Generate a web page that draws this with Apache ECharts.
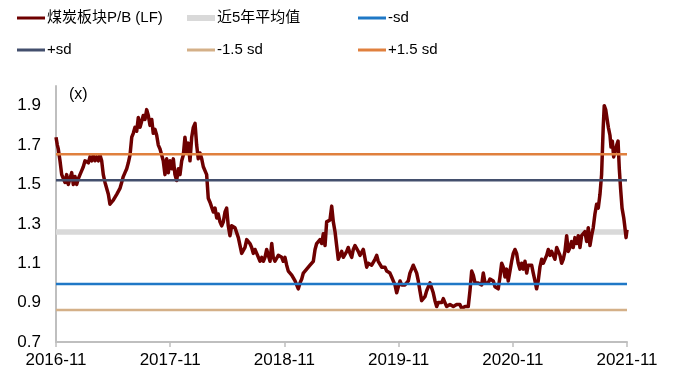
<!DOCTYPE html>
<html><head><meta charset="utf-8">
<script src="https://cdn.jsdelivr.net/npm/echarts@6/dist/echarts.min.js"></script>
<style>html,body{margin:0;padding:0;background:#fff}#c{width:677px;height:380px}</style>
</head><body><div id="c"></div>
<script>
// x = months since 2016-11
const xTickLabels = ['2016-11','2017-11','2018-11','2019-11','2020-11','2021-11'];
const months = [0,0.14,0.24,0.42,0.60,0.77,0.95,1.12,1.29,1.47,1.65,1.82,2.00,2.17,2.35,2.52,2.70,2.87,3.05,3.22,3.40,3.57,3.75,3.92,4.10,4.28,4.45,4.62,4.80,4.97,5.15,5.33,5.50,5.67,5.85,6.02,6.20,6.38,6.55,6.72,6.90,7.07,7.25,7.43,7.60,7.78,7.96,8.12,8.30,8.48,8.65,8.83,9.00,9.17,9.35,9.53,9.70,9.88,10.06,10.22,10.40,10.58,10.75,10.93,11.27,11.45,11.63,11.80,11.98,12.16,12.33,12.50,12.68,12.85,13.03,13.21,13.38,13.55,13.73,13.90,14.08,14.26,14.43,14.61,14.78,14.95,15.13,15.31,15.48,15.66,15.83,16.00,16.18,16.36,16.53,16.71,16.89,17.05,17.23,17.41,17.58,17.76,17.93,18.10,18.28,18.46,18.81,19.16,19.33,19.51,19.68,19.86,20.04,20.21,20.38,20.56,20.73,20.91,21.09,21.26,21.44,21.62,21.79,21.96,22.14,22.31,22.49,22.67,22.83,23.01,23.19,23.36,23.54,23.72,23.88,24.06,24.24,24.41,24.59,24.77,24.94,25.12,25.29,25.46,25.64,25.82,25.99,26.17,26.34,26.51,26.69,26.87,27.04,27.22,27.39,27.56,27.74,27.92,28.09,28.27,28.44,28.61,28.79,28.97,29.14,29.32,29.49,29.66,29.84,30.02,30.19,30.37,30.55,30.71,30.89,31.07,31.24,31.42,31.60,31.76,31.94,32.12,32.29,32.47,32.65,32.81,32.99,33.17,33.34,33.52,33.70,33.86,34.04,34.22,34.39,34.57,34.75,34.91,35.09,35.27,35.44,35.62,35.80,35.97,36.15,36.32,36.49,36.67,36.85,37.02,37.19,37.37,37.54,37.72,37.90,38.07,38.24,38.42,38.59,38.77,38.95,39.12,39.30,39.47,39.64,39.82,40.00,40.17,40.35,40.53,40.70,40.87,41.05,41.22,41.40,41.58,41.75,41.93,42.10,42.27,42.45,42.63,42.80,42.98,43.15,43.32,43.50,43.68,43.85,44.03,44.20,44.37,44.55,44.73,44.90,45.08,45.25,45.42,45.60,45.78,45.95,46.13,46.30,46.47,46.65,46.83,47.00,47.18,47.35,47.52,47.70,47.88,48.05,48.23,48.40,48.57,48.75,48.93,49.10,49.28,49.46,49.62,49.81,49.98,50.15,50.33,50.50,50.67,50.85,51.03,51.20,51.38,51.56,51.73,51.91,52.08,52.25,52.43,52.61,52.78,52.96,53.13,53.30,53.48,53.66,53.83,54.01,54.18,54.35,54.53,54.71,54.88,55.06,55.23,55.40,55.58,55.76,55.93,56.11,56.28,56.45,56.63,56.81,56.98,57.16,57.33,57.50,57.61,57.76,57.86,58.04,58.21,58.32,58.46,58.60,58.74,58.92,59.06,59.19,59.34,59.48,59.66,59.76,59.90,60.00];
const pb = [1.74,1.70,1.68,1.62,1.55,1.54,1.51,1.55,1.50,1.53,1.56,1.50,1.54,1.50,1.53,1.55,1.57,1.59,1.62,1.63,1.61,1.64,1.62,1.65,1.62,1.64,1.62,1.65,1.62,1.55,1.51,1.50,1.45,1.40,1.39,1.42,1.43,1.45,1.46,1.48,1.51,1.54,1.56,1.58,1.61,1.65,1.74,1.76,1.79,1.77,1.84,1.79,1.80,1.85,1.83,1.88,1.85,1.80,1.83,1.76,1.78,1.75,1.70,1.68,1.62,1.55,1.63,1.56,1.62,1.58,1.63,1.55,1.52,1.58,1.55,1.62,1.65,1.74,1.66,1.71,1.62,1.74,1.79,1.81,1.70,1.63,1.66,1.63,1.59,1.60,1.55,1.43,1.41,1.40,1.36,1.38,1.33,1.35,1.31,1.29,1.31,1.36,1.38,1.29,1.24,1.29,1.28,1.23,1.23,1.15,1.16,1.18,1.22,1.21,1.20,1.18,1.15,1.17,1.15,1.14,1.11,1.13,1.11,1.13,1.17,1.14,1.11,1.20,1.13,1.11,1.12,1.14,1.13,1.13,1.11,1.13,1.09,1.06,1.07,1.04,1.03,1.01,0.99,0.97,1.00,1.02,1.05,1.04,1.07,1.06,1.09,1.10,1.11,1.17,1.20,1.21,1.22,1.20,1.25,1.19,1.31,1.30,1.32,1.39,1.31,1.26,1.19,1.12,1.13,1.16,1.13,1.12,1.16,1.18,1.15,1.13,1.17,1.19,1.18,1.16,1.14,1.15,1.17,1.17,1.08,1.10,1.11,1.09,1.08,1.12,1.14,1.11,1.10,1.08,1.07,1.08,1.06,1.07,1.05,1.03,1.01,0.99,0.95,0.98,1.01,0.99,0.98,0.99,1.00,1.01,1.05,1.07,1.09,1.08,1.05,1.01,0.96,0.91,0.90,0.93,0.96,0.96,1.00,0.99,0.95,0.91,0.88,0.90,0.91,0.90,0.92,0.90,0.88,0.88,0.89,0.88,0.88,0.89,0.89,0.88,0.89,0.87,0.86,0.88,0.88,0.88,0.96,1.06,1.04,1.00,1.01,1.00,1.01,0.99,1.05,1.00,1.01,1.00,1.02,1.01,1.01,0.98,0.99,0.97,1.03,1.10,1.08,1.03,1.07,1.01,1.06,1.11,1.15,1.17,1.15,1.10,1.07,1.10,1.07,1.11,1.05,1.09,1.08,1.09,1.05,1.01,0.97,1.01,1.08,1.12,1.10,1.11,1.14,1.17,1.14,1.16,1.14,1.12,1.18,1.16,1.14,1.10,1.12,1.16,1.24,1.16,1.18,1.21,1.18,1.23,1.20,1.24,1.18,1.24,1.23,1.26,1.21,1.28,1.19,1.24,1.28,1.35,1.40,1.38,1.45,1.55,1.79,1.90,1.88,1.89,1.79,1.75,1.69,1.72,1.64,1.65,1.70,1.72,1.58,1.47,1.38,1.33,1.29,1.23,1.27];
const bandNames = ['近5年平均值','-sd','+sd','-1.5 sd','+1.5 sd'];
const bandValues = [1.258, 0.994, 1.522, 0.862, 1.654];
const seriesName = '煤炭板块P/B (LF)';

const font = '"Liberation Sans", Arial, "Noto Sans CJK SC", sans-serif';
const colors = {
  '煤炭板块P/B (LF)': '#6E0000',
  '近5年平均值': '#D9D9D9',
  '-sd': '#1F78C6',
  '+sd': '#434F6D',
  '-1.5 sd': '#D4B088',
  '+1.5 sd': '#E0803E'
};
const widths = {'近5年平均值': 5.5, '-sd': 2.5, '+sd': 2.5, '-1.5 sd': 2.5, '+1.5 sd': 2.5};

const series = [];
function bandSeries(i) {
  const n = bandNames[i];
  return {
    name: n, type: 'line', symbol: 'none', silent: true,
    data: [[0, bandValues[i]], [60, bandValues[i]]],
    lineStyle: {color: colors[n], width: widths[n]},
    itemStyle: {color: colors[n]}
  };
}
series.push(bandSeries(0));
series.push({
  name: seriesName, type: 'line', symbol: 'none',
  data: months.map((m, i) => [m, pb[i]]),
  lineStyle: {color: colors[seriesName], width: 3.5, join: 'round'},
  itemStyle: {color: colors[seriesName]}
});
for (let i = 1; i < bandNames.length; i++) series.push(bandSeries(i));

const legendLayout = [
  [seriesName, 17, 8, 3], ['近5年平均值', 187, 8, 6], ['-sd', 358, 8, 3],
  ['+sd', 17, 40, 3], ['-1.5 sd', 187, 40, 3], ['+1.5 sd', 358, 40, 3]
];
const legends = legendLayout.map(([n, l, t, h]) => ({
  left: l, top: t, padding: 0, data: [{name: n, icon: 'rect'}],
  itemWidth: 28, itemHeight: h, selectedMode: false,
  textStyle: {fontSize: 15, color: '#000', fontFamily: font, lineHeight: 20, padding: [0, 0, 0, -3]}
}));

const chart = echarts.init(document.getElementById('c'), null, {renderer: 'canvas'});
chart.setOption({
  animation: false,
  backgroundColor: '#fff',
  legend: legends,
  grid: {left: 56, right: 50, top: 86, bottom: 38, containLabel: false},
  xAxis: {
    type: 'value', min: 0, max: 60, interval: 12,
    axisLine: {lineStyle: {color: '#BFBFBF', width: 2}},
    axisTick: {show: true, length: 5, lineStyle: {color: '#BFBFBF', width: 1.5}},
    axisLabel: {margin: 10, fontSize: 17, color: '#000', fontFamily: font,
      formatter: v => xTickLabels[Math.round(v / 12)] || ''},
    splitLine: {show: false}
  },
  yAxis: {
    type: 'value', min: 0.7, max: 2.0, interval: 0.2,
    axisLine: {show: true, lineStyle: {color: '#BFBFBF', width: 2}},
    axisTick: {show: false},
    axisLabel: {margin: 15, fontSize: 17, color: '#000', fontFamily: font, showMaxLabel: false,
      formatter: v => v.toFixed(1)},
    splitLine: {show: false}
  },
  graphic: [{type: 'text', left: 69, top: 87, style: {text: '(x)', fill: '#000', font: '16px ' + font}}],
  series: series
});
</script></body></html>
